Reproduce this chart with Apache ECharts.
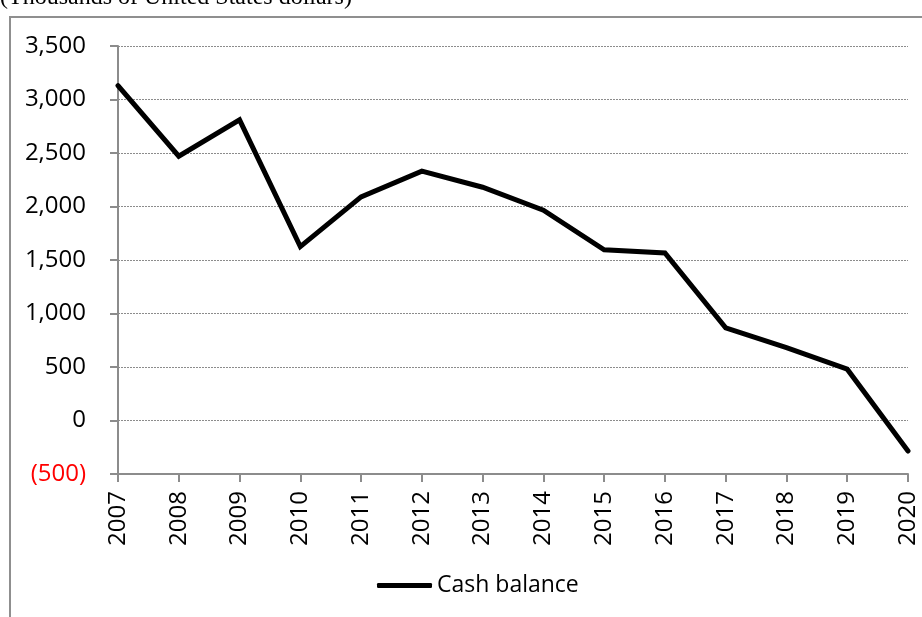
<!DOCTYPE html>
<html>
<head>
<meta charset="utf-8">
<script src="https://cdn.jsdelivr.net/npm/echarts@6/dist/echarts.min.js"></script>
<style>
html,body{margin:0;padding:0;background:#fff;}
#chart{width:922px;height:617px;}
</style>
</head>
<body>
<div id="chart"></div>
<script>
const years = ['2007','2008','2009','2010','2011','2012','2013','2014','2015','2016','2017','2018','2019','2020'];
const cashBalance = [3130, 2470, 2810, 1625, 2090, 2330, 2180, 1965, 1595, 1565, 865, 680, 480, -285];
const seriesName = 'Cash balance';
const unitNote = '(Thousands of United States dollars)';

const chart = echarts.init(document.getElementById('chart'), null, {renderer: 'canvas'});
const FONT = 'Open Sans';
function fmt(v) {
  const s = Math.abs(v).toString().replace(/\B(?=(\d{3})+(?!\d))/g, ',');
  return v < 0 ? '(' + s + ')' : s;
}
chart.setOption({
  animation: false,
  backgroundColor: '#fff',
  graphic: [
    {type: 'rect', shape: {x: 10, y: 17, width: 940, height: 640},
     style: {fill: 'none', stroke: '#8f8f8f', lineWidth: 2}, silent: true},
    {type: 'text', x: 0, y: 10,
     style: {text: unitNote, font: '24px "Liberation Serif"', fill: '#000', verticalAlign: 'bottom'}}
  ],
  grid: {left: 118, right: 14, top: 46, bottom: 143, containLabel: false},
  legend: {
    data: [{name: seriesName, icon: 'roundRect'}],
    left: 372, top: 569,
    itemWidth: 55, itemHeight: 5, itemGap: 5,
    itemStyle: {color: '#000'},
    textStyle: {fontFamily: FONT, fontSize: 23, color: '#000'}
  },
  xAxis: {
    type: 'category',
    data: years,
    boundaryGap: false,
    axisLine: {onZero: false, lineStyle: {color: '#8c8c8c', width: 2}},
    axisTick: {show: true, length: 8, alignWithLabel: true, lineStyle: {color: '#8c8c8c', width: 2}},
    axisLabel: {rotate: 90, margin: 17, fontFamily: FONT, fontSize: 24, color: '#000', interval: 0},
    splitLine: {show: false}
  },
  yAxis: {
    type: 'value',
    min: -500, max: 3500, interval: 500,
    axisLine: {show: true, lineStyle: {color: '#8c8c8c', width: 2}},
    axisTick: {show: true, length: 8, lineStyle: {color: '#8c8c8c', width: 2}},
    axisLabel: {
      margin: 32, fontFamily: FONT, fontSize: 24,
      formatter: fmt,
      color: function (v) { return Number(v) < 0 ? '#ff0000' : '#000'; }
    },
    splitLine: {show: true, lineStyle: {color: '#8c8c8c', type: [2, 1], width: 1}}
  },
  series: [{
    name: seriesName,
    type: 'line',
    data: cashBalance,
    symbol: 'none',
    lineStyle: {color: '#000', width: 5, cap: 'round', join: 'miter'},
    itemStyle: {color: '#000'}
  }]
});
</script>
</body>
</html>
